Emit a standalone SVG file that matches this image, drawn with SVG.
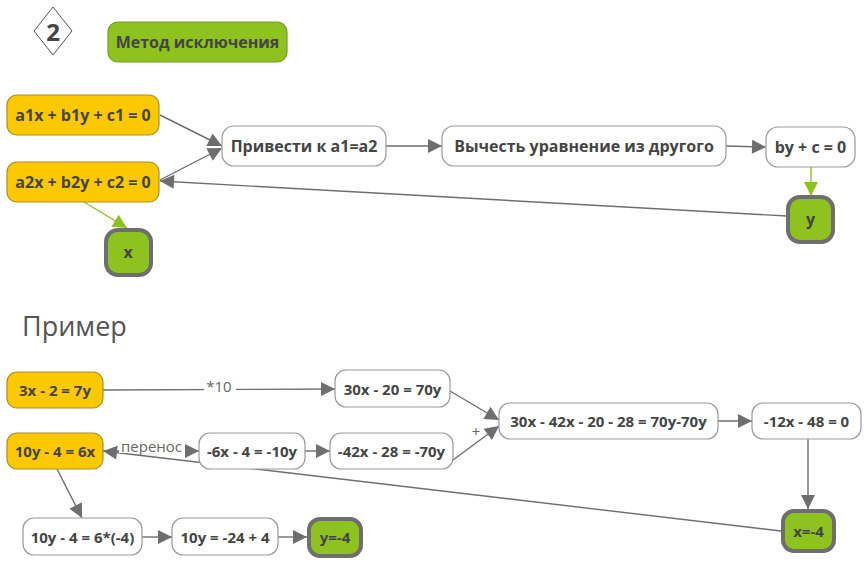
<svg xmlns="http://www.w3.org/2000/svg" width="868" height="567" viewBox="0 0 868 567">
<defs>
<style>
.t{font-family:"Open Sans","Noto Sans","Liberation Sans",sans-serif;font-weight:bold;font-size:15px;fill:#444;text-anchor:middle;dominant-baseline:central}
.t16{font-size:16px}
.lbl{font-family:"Open Sans","Noto Sans","Liberation Sans",sans-serif;font-size:15px;fill:#666;text-anchor:middle;dominant-baseline:central}
.w{fill:#fff;stroke:#999;stroke-width:1.2}
.yl{fill:#fcc800;stroke:#a8902a;stroke-width:1.2}
.g{fill:#8dc21f;stroke:#6e6e6e;stroke-width:4}
.gh{fill:#8dc21f;stroke:#789a2a;stroke-width:1.2}
.e{stroke:#6e6e6e;stroke-width:1.4;fill:none;marker-end:url(#ah)}
.eg{stroke:#8dc21f;stroke-width:1.4;fill:none;marker-end:url(#ahg)}
</style>
<marker id="ah" viewBox="0 0 10 10" refX="10" refY="5" markerWidth="19" markerHeight="14" markerUnits="userSpaceOnUse" orient="auto"><path d="M0,0 L10,5 L0,10 z" fill="#6e6e6e"/></marker>
<marker id="ahg" viewBox="0 0 10 10" refX="10" refY="5" markerWidth="17" markerHeight="14" markerUnits="userSpaceOnUse" orient="auto"><path d="M0,0 L10,5 L0,10 z" fill="#8dc21f"/></marker>
</defs>
<rect width="868" height="567" fill="#fff"/>

<g id="connectors">
<line class="e" x1="160" y1="115" x2="222" y2="146"/>
<line class="e" x1="160" y1="180" x2="222" y2="148"/>
<line class="e" x1="787" y1="216" x2="160" y2="181"/>
<line class="e" x1="386" y1="146" x2="442" y2="146"/>
<line class="e" x1="726" y1="146" x2="766" y2="147"/>
<line class="eg" x1="811" y1="167" x2="811" y2="196"/>
<line class="eg" x1="84" y1="202" x2="127" y2="228"/>

<line class="e" x1="103" y1="390" x2="335" y2="389"/>
<rect x="204" y="379" width="32" height="15" fill="#fff"/>
<text class="lbl" x="219" y="386">*10</text>
<line class="e" x1="781" y1="531" x2="103" y2="451"/>
<line class="e" x1="103" y1="451" x2="199" y2="451"/>
<rect x="119" y="439" width="66" height="14" fill="#fff"/>
<text class="lbl" x="151.5" y="446">перенос</text>
<line class="e" x1="305" y1="451" x2="330" y2="451"/>
<line class="e" x1="450" y1="391" x2="499" y2="420"/>
<line class="e" x1="453" y1="460" x2="499" y2="426"/>
<rect x="470" y="425" width="12" height="13" fill="#fff"/>
<text class="lbl" x="476" y="431">+</text>
<line class="e" x1="718" y1="421" x2="752" y2="421"/>
<line class="e" x1="808" y1="439" x2="808" y2="509"/>
<line class="e" x1="57" y1="469" x2="82" y2="518"/>
<line class="e" x1="142" y1="537" x2="172" y2="537"/>
<line class="e" x1="278" y1="537" x2="307" y2="537"/>
</g>

<g id="badge">
<polygon points="53,7 72,31 53,55 34,31" fill="#fff" stroke="#555" stroke-width="1"/>
<text class="t" x="53" y="31" style="font-size:24px">2</text>
</g>
<g id="title">
<rect class="gh" x="108" y="22" width="179" height="40" rx="10"/>
<text class="t t16" x="197.5" y="42">Метод исключения</text>
</g>

<g id="n_a1"><rect class="yl" x="7" y="95" width="152" height="40" rx="10"/><text class="t t16" x="83" y="115">a1x + b1y + c1 = 0</text></g>
<g id="n_a2"><rect class="yl" x="7" y="162" width="152" height="40" rx="10"/><text class="t t16" x="83" y="182">a2x + b2y + c2 = 0</text></g>
<g id="n_x"><rect class="g" x="106" y="230" width="45" height="45" rx="12"/><text class="t t16" x="128" y="252">x</text></g>
<g id="n_priv"><rect class="w" x="222" y="126" width="164" height="40" rx="12"/><text class="t t16" x="304" y="146">Привести к a1=a2</text></g>
<g id="n_vych"><rect class="w" x="442" y="126" width="284" height="40" rx="12"/><text class="t t16" x="584" y="146">Вычесть уравнение из другого</text></g>
<g id="n_by"><rect class="w" x="766" y="127" width="89" height="40" rx="12"/><text class="t t16" x="810.5" y="147">by + c = 0</text></g>
<g id="n_y"><rect class="g" x="788" y="197" width="45" height="45" rx="12"/><text class="t t16" x="810.5" y="219">y</text></g>

<text x="22" y="336" style="font-family:'Open Sans','Noto Sans','Liberation Sans',sans-serif;font-size:27px;fill:#555">Пример</text>

<g id="n_3x"><rect class="yl" x="7" y="372" width="96" height="36" rx="10"/><text class="t" x="55" y="390">3x - 2 = 7y</text></g>
<g id="n_30x"><rect class="w" x="335" y="370" width="115" height="37" rx="11"/><text class="t" x="392.5" y="389">30x - 20 = 70y</text></g>
<g id="n_10y"><rect class="yl" x="7" y="433" width="96" height="36" rx="10"/><text class="t" x="55" y="451">10y - 4 = 6x</text></g>
<g id="n_6x"><rect class="w" x="199" y="433" width="106" height="36" rx="11"/><text class="t" x="252" y="451">-6x - 4 = -10y</text></g>
<g id="n_42x"><rect class="w" x="330" y="433" width="123" height="36" rx="11"/><text class="t" x="391.5" y="451">-42x - 28 = -70y</text></g>
<g id="n_sum"><rect class="w" x="499" y="403" width="219" height="36" rx="11"/><text class="t" x="608.5" y="421">30x - 42x - 20 - 28 = 70y-70y</text></g>
<g id="n_12x"><rect class="w" x="752" y="403" width="109" height="36" rx="11"/><text class="t" x="806.5" y="421">-12x - 48 = 0</text></g>
<g id="n_xr"><rect class="g" x="783" y="511" width="51" height="40" rx="11"/><text class="t" x="808.5" y="531">x=-4</text></g>
<g id="n_sub"><rect class="w" x="23" y="518" width="119" height="37" rx="11"/><text class="t" x="82.5" y="537">10y - 4 = 6*(-4)</text></g>
<g id="n_10yb"><rect class="w" x="172" y="518" width="106" height="37" rx="11"/><text class="t" x="225" y="537">10y = -24 + 4</text></g>
<g id="n_yr"><rect class="g" x="309" y="519" width="52" height="37" rx="11"/><text class="t" x="335" y="537">y=-4</text></g>
</svg>
